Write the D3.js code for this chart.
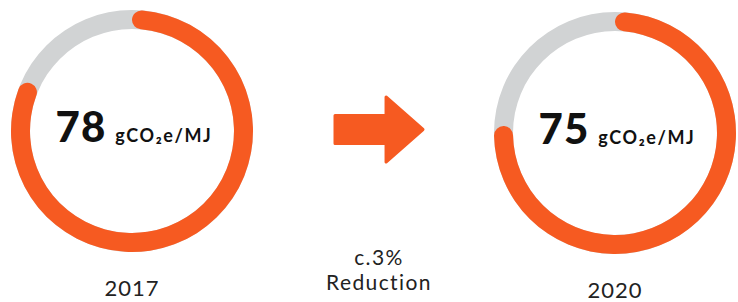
<!DOCTYPE html>
<html>
<head>
<meta charset="utf-8">
<script src="https://cdn.jsdelivr.net/npm/d3@7"></script>
<style>
  body { margin: 0; background: #fff; }
  svg { display: block; font-family: Lato, "Open Sans", sans-serif; }
</style>
</head>
<body>
<div class="chart"></div>
<script>
// carbon intensity, two years
const years = ["2017", "2020"];
const values = [78, 75];
const ringShare = [82, 76];   // share of ring coloured
const unitLabel = "gCO₂e/MJ";
const changeLabel = ["c.3%", "Reduction"];

const width = 738, height = 302;
const orange = "#f65a21", grey = "#d1d3d4";

const svg = d3.select(".chart").append("svg")
    .attr("width", width)
    .attr("height", height);

const x = d3.scalePoint().domain(years).range([132, 615]);
const cy = [131, 133];
const angle = d3.scaleLinear().domain([0, 100]).range([0, 2 * Math.PI]);

const outerR = 121, thick = 19;
const arc = d3.arc()
    .innerRadius(outerR - thick)
    .outerRadius(outerR)
    .cornerRadius(thick / 2);

const g = svg.selectAll("g.ring")
    .data(years.map((y, i) => ({year: y, value: values[i], share: ringShare[i], cy: cy[i]})))
  .join("g")
    .attr("class", "ring")
    .attr("transform", d => `translate(${x(d.year)},${d.cy})`);

g.append("path")
    .attr("fill", grey)
    .attr("d", arc({startAngle: 0, endAngle: 2 * Math.PI}));

g.append("path")
    .attr("fill", orange)
    .attr("d", d => arc({startAngle: 0, endAngle: angle(d.share)}));

// value + unit
const label = g.append("text")
    .attr("x", 2)
    .attr("y", 11)
    .attr("text-anchor", "middle")
    .attr("fill", "#111");
label.append("tspan")
    .attr("font-size", 42)
    .attr("font-weight", 900)
    .attr("letter-spacing", 1)
    .text(d => d.value);
label.append("tspan")
    .attr("dx", 9)
    .attr("font-size", 18)
    .attr("font-weight", 700)
    .attr("letter-spacing", 1.6)
    .text(unitLabel);

g.append("text")
    .attr("y", 165)
    .attr("text-anchor", "middle")
    .attr("font-size", 22)
    .attr("letter-spacing", 1)
    .attr("fill", "#222")
    .text(d => d.year);

// arrow between the rings
const ax = d3.scaleLinear().domain([0, 1]).range([335, 423]);
const ay = d3.scaleLinear().domain([-1, 1]).range([97, 162]);
const arrowPts = [[0, -0.43], [0.58, -0.43], [0.58, -1], [1, 0], [0.58, 1], [0.58, 0.43], [0, 0.43]];
svg.append("path")
    .attr("fill", orange)
    .attr("stroke", orange)
    .attr("stroke-width", 3)
    .attr("stroke-linejoin", "round")
    .attr("d", d3.line().x(p => ax(p[0])).y(p => ay(p[1])).curve(d3.curveLinearClosed)(arrowPts));

svg.append("text")
    .attr("x", 379)
    .attr("text-anchor", "middle")
    .attr("font-size", 21)
    .attr("letter-spacing", 1.4)
    .attr("fill", "#222")
    .selectAll("tspan")
    .data(changeLabel)
  .join("tspan")
    .attr("x", 379)
    .attr("y", (d, i) => 265 + i * 25)
    .text(d => d);
</script>
</body>
</html>
